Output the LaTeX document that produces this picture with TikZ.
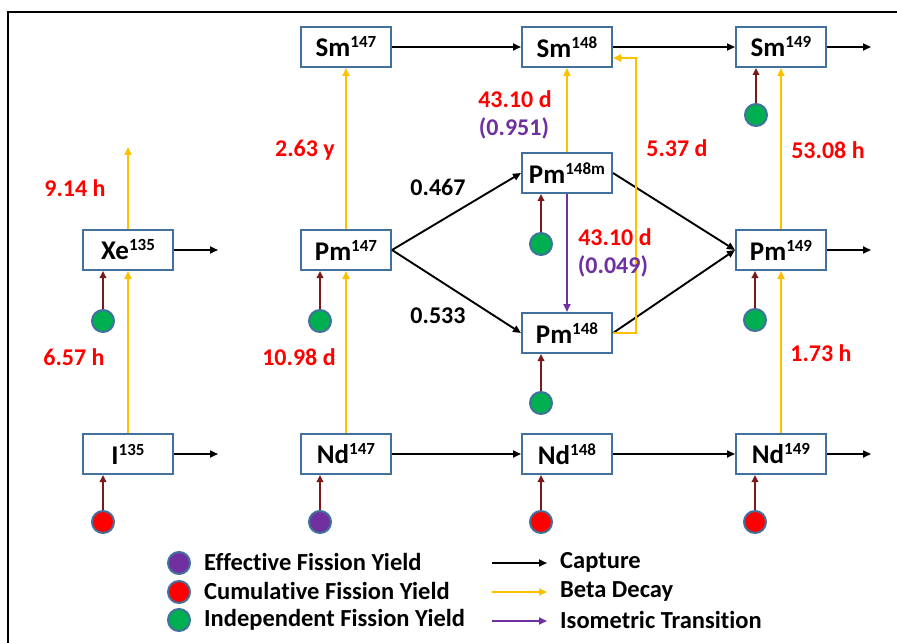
\documentclass[tikz,border=0pt]{standalone}
\usepackage{fontspec}
\setmainfont[Ligatures=NoCommon]{Carlito}
\usetikzlibrary{arrows.meta}
\definecolor{bbord}{HTML}{41719C}
\definecolor{betay}{HTML}{FFC000}
\definecolor{itpur}{HTML}{7030A0}
\definecolor{gfill}{HTML}{00B050}
\definecolor{pfill}{HTML}{7030A0}
\definecolor{rfill}{HTML}{FF0000}
\definecolor{yarrc}{HTML}{7B1A1A}
\newcommand\isosup[1]{\raisebox{9bp}{\fontsize{17bp}{17bp}\selectfont #1}}
\begin{document}
\begin{tikzpicture}[x=1bp,y=-1bp,
  iso/.style={draw=bbord, line width=2bp, fill=white, minimum width=90bp, minimum height=40bp, inner sep=0pt, font=\bfseries\fontsize{27bp}{27bp}\selectfont},
  capt/.style={-{Triangle[length=8bp,width=7bp]}, line width=1.9bp, black},
  beta/.style={-{Triangle[length=8bp,width=7bp]}, line width=1.9bp, betay},
  isot/.style={-{Triangle[length=8bp,width=7bp]}, line width=1.9bp, itpur},
  yarr/.style={-{Triangle[length=7bp,width=6.5bp]}, line width=2.4bp, yarrc},
  yc/.style={circle, draw=bbord, line width=2bp, minimum size=22bp, inner sep=0pt},
  lab/.style={font=\bfseries\fontsize{24bp}{24bp}\selectfont, text=red},
  labk/.style={font=\bfseries\fontsize{24bp}{24bp}\selectfont, text=black},
  labp/.style={font=\bfseries\fontsize{24bp}{24bp}\selectfont, text=itpur},
  leg/.style={anchor=west, font=\bfseries\fontsize{24.5bp}{24.5bp}\selectfont, inner sep=0pt}
]
\useasboundingbox (0,0) rectangle (897,643);
\fill[white] (0,0) rectangle (897,643);
\draw[line width=1.5bp] (8,643) -- (8,12) -- (897,12);

% nuclide boxes
\node[iso] (Sm147) at (346,47) {Sm\isosup{147}};
\node[iso] (Sm148) at (567,47) {Sm\isosup{148}};
\node[iso] (Sm149) at (781,47) {Sm\isosup{149}};
\node[iso] (Pm148m) at (567,173) {Pm\isosup{148m}};
\node[iso] (Xe135) at (128,250) {Xe\isosup{135}};
\node[iso] (Pm147) at (346,250) {Pm\isosup{147}};
\node[iso] (Pm149) at (781,250) {Pm\isosup{149}};
\node[iso] (Pm148) at (567,333) {Pm\isosup{148}};
\node[iso] (I135) at (128,454) {I\isosup{135}};
\node[iso] (Nd147) at (346,454) {Nd\isosup{147}};
\node[iso] (Nd148) at (567,454) {Nd\isosup{148}};
\node[iso] (Nd149) at (781,454) {Nd\isosup{149}};

% free ends
\coordinate (eSm149) at (871,47);
\coordinate (eXe) at (218,250);
\coordinate (ePm149) at (871,250);
\coordinate (eI) at (218,454);
\coordinate (eNd149) at (871,454);
\coordinate (tXe) at (128,147);
\coordinate (k) at (636,58);

% capture
\draw[capt] (Sm147) -- (Sm148);
\draw[capt] (Sm148) -- (Sm149);
\draw[capt] (Sm149) -- (eSm149);
\draw[capt] (Xe135) -- (eXe);
\draw[capt] (Pm149) -- (ePm149);
\draw[capt] (I135) -- (eI);
\draw[capt] (Nd147) -- (Nd148);
\draw[capt] (Nd148) -- (Nd149);
\draw[capt] (Nd149) -- (eNd149);
\draw[capt] (Pm147.east) -- (Pm148m.west);
\draw[capt] (Pm147.east) -- (Pm148.west);
\draw[capt] (Pm148m.east) -- (Pm149.west);
\draw[capt] (Pm148.east) -- (Pm149.west);

% beta decay
\draw[beta] (I135) -- (Xe135);
\draw[beta] (Xe135) -- (tXe);
\draw[beta] (Nd147) -- (Pm147);
\draw[beta] (Pm147) -- (Sm147);
\draw[beta] (Pm148m) -- (Sm148);
\draw[beta] (Pm148.east) -| (k) -- (Sm148.east |- k);
\draw[beta] (Nd149) -- (Pm149);
\draw[beta] (Pm149) -- (Sm149);

% isomeric transition
\draw[isot] (Pm148m) -- (Pm148);

% yields
\node[yc, fill=gfill] (cXe) at (103,321) {};
\node[yc, fill=rfill] (cI) at (103,522) {};
\node[yc, fill=gfill] (cPm147) at (320,321) {};
\node[yc, fill=pfill] (cNd147) at (320,522) {};
\node[yc, fill=gfill] (cSm149) at (756,115) {};
\node[yc, fill=gfill] (cPm148m) at (541,244) {};
\node[yc, fill=gfill] (cPm148) at (541,403) {};
\node[yc, fill=gfill] (cPm149) at (755,320) {};
\node[yc, fill=rfill] (cNd148) at (541,522) {};
\node[yc, fill=rfill] (cNd149) at (755,522) {};
\draw[yarr] (cXe) -- (cXe |- Xe135.south);
\draw[yarr] (cI) -- (cI |- I135.south);
\draw[yarr] (cPm147) -- (cPm147 |- Pm147.south);
\draw[yarr] (cNd147) -- (cNd147 |- Nd147.south);
\draw[yarr] (cSm149) -- (cSm149 |- Sm149.south);
\draw[yarr] (cPm148m) -- (cPm148m |- Pm148m.south);
\draw[yarr] (cPm148) -- (cPm148 |- Pm148.south);
\draw[yarr] (cPm149) -- (cPm149 |- Pm149.south);
\draw[yarr] (cNd148) -- (cNd148 |- Nd148.south);
\draw[yarr] (cNd149) -- (cNd149 |- Nd149.south);

% labels
\node[lab] (l1) at (75,188) {9.14 h};
\node[lab] (l2) at (74,357) {6.57 h};
\node[lab] (l3) at (305,150) {2.63 y};
\node[lab] (l4) at (299,357) {10.98 d};
\node[labk] (l5) at (438,187) {0.467};
\node[labk] (l6) at (438,316) {0.533};
\node[lab] (l7) at (515,99) {43.10 d};
\node[labp] (l8) at (514,128) {(0.951)};
\node[lab] (l9) at (677,148) {5.37 d};
\node[lab] (l10) at (615,237) {43.10 d};
\node[labp] (l11) at (613,266) {(0.049)};
\node[lab] (l12) at (828,150) {53.08 h};
\node[lab] (l13) at (821,353) {1.73 h};

% legend
\node[yc, fill=pfill] (g1) at (179,563) {};
\node[yc, fill=rfill] (g2) at (179,592) {};
\node[yc, fill=gfill] (g3) at (179,620) {};
\node[leg] (t1) at (204,562) {Effective Fission Yield};
\node[leg] (t2) at (204,591) {Cumulative Fission Yield};
\node[leg] (t3) at (204,620) {Independent Fission Yield};
\coordinate (a1s) at (492,563); \coordinate (a1e) at (547,563);
\coordinate (a2s) at (492,592); \coordinate (a2e) at (547,592);
\coordinate (a3s) at (492,621); \coordinate (a3e) at (547,621);
\draw[capt] (a1s) -- (a1e);
\draw[beta] (a2s) -- (a2e);
\draw[isot] (a3s) -- (a3e);
\node[leg] (t4) at (560,562) {Capture};
\node[leg] (t5) at (560,591) {Beta Decay};
\node[leg] (t6) at (560,620) {Isometric Transition};
\end{tikzpicture}
\end{document}
